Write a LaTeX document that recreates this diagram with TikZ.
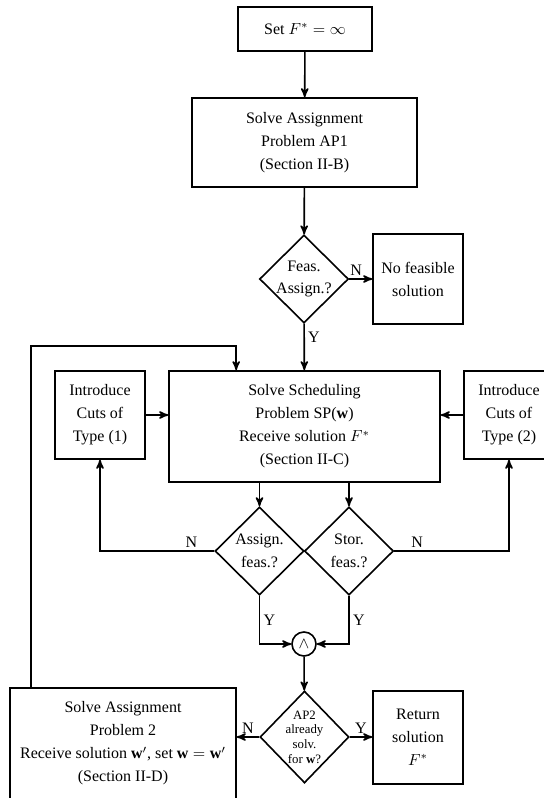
\documentclass[tikz,border=0pt]{standalone}
\usepackage{fontspec}
\setmainfont{Liberation Serif}
\usetikzlibrary{shapes.geometric, arrows, calc}
\usepackage{amsmath,amssymb}

\begin{document}
\begin{tikzpicture}[line width=1pt, x=0.625pt, y=-0.625pt, >=stealth',
        block/.style={draw, rectangle, align=center, inner sep=0pt, font=\fontsize{10}{14.4}\selectfont},
        decision/.style={draw, diamond, aspect=1, align=center, inner sep=-6pt, font=\fontsize{10}{14}\selectfont},
        lbl/.style={font=\fontsize{10}{12}\selectfont, inner sep=2pt}]
        \useasboundingbox (0,0) rectangle (544,798);

        \node[block, minimum width=83.75pt, minimum height=27.5pt] at (305,29) (setF) {Set $F^{*} = \infty$};
        \node[block, minimum width=140.6pt, minimum height=55.6pt] at (304.5,142.5) (ap1) {Solve Assignment\\Problem AP1\\(Section II-B)};
        \node[decision, minimum width=55.6pt, minimum height=55pt] at (304,279) (feas) {Feas.\\Assign.?};
        \node[block, minimum width=56.25pt, minimum height=56.25pt] at (418,279) (nofeas) {No feasible\\solution};
        \node[block, minimum width=169.4pt, minimum height=69.4pt] at (304.5,426.5) (sched) {Solve Scheduling\\Problem SP($\mathbf{w}$)\\Receive solution $F^{*}$\\(Section II-C)};
        \node[block, minimum width=56.25pt, minimum height=55pt] at (100,415) (cuts1) {Introduce\\Cuts of\\Type (1)};
        \node[block, minimum width=56.25pt, minimum height=55pt] at (509,415) (cuts2) {Introduce\\Cuts of\\Type (2)};
        \node[decision, minimum width=55.6pt, minimum height=55pt] at (259.5,551) (assign) {Assign.\\feas.?};
        \node[decision, minimum width=55.6pt, minimum height=55pt] at (349,551) (stor) {Stor.\\feas.?};
        \node[draw, circle, minimum size=15pt, inner sep=0pt] at (304,644) (and) {$\wedge$};
        \node[decision, minimum width=55.6pt, minimum height=57.5pt, font=\fontsize{8}{9.2}\selectfont] at (304.5,737) (ap2) {AP2\\already\\solv.\\for $\mathbf{w}$?};
        \node[block, minimum width=56.25pt, minimum height=58pt] at (418,737.5) (ret) {Return\\solution\\$F^{*}$};
        \node[block, minimum width=141.25pt, minimum height=69.4pt] at (123,743.5) (ap2box) {Solve Assignment\\Problem 2\\Receive solution $\mathbf{w}'$, set $\mathbf{w} = \mathbf{w}'$\\(Section II-D)};

        \draw[->] (setF) -- (ap1);
        \draw[->] (ap1) -- (feas);
        \draw[->] (feas) -- node[lbl, above, pos=0.3] {N} (nofeas);
        \draw[->] (feas) -- node[lbl, right, pos=0.3] {Y} (sched);

        \draw[->] (cuts1.east) -- (cuts1.east -| sched.west);
        \draw[->] (cuts2.west) -- (cuts2.west -| sched.east);

        \draw[->] (sched.south -| assign.north) -- (assign.north);
        \draw[->] (sched.south -| stor.north) -- (stor.north);
        \draw[->] (assign.west) -| node[lbl, above, pos=0.1] {N} (cuts1.south);
        \draw[->] (stor.east) -| node[lbl, above, pos=0.1] {N} (cuts2.south);
        \draw[->] (assign.south) |- node[lbl, right, pos=0.25] {Y} (and.west);
        \draw[->] (stor.south) |- node[lbl, right, pos=0.25] {Y} (and.east);

        \draw[->] (and) -- (ap2);
        \draw[->] (ap2.west) -- node[lbl, above] {N} (ap2.west -| ap2box.east);
        \draw[->] (ap2.east) -- node[lbl, above] {Y} (ap2.east -| ret.west);

        % back to the scheduling problem
        \coordinate (loopL) at ($(ap2box.north west) + (22,0)$);
        \coordinate (loopR) at ($(sched.north west) + (68,0)$);
        \draw[->] (loopL) -- ++(0,-341) -| (loopR);
    \end{tikzpicture}
\end{document}
